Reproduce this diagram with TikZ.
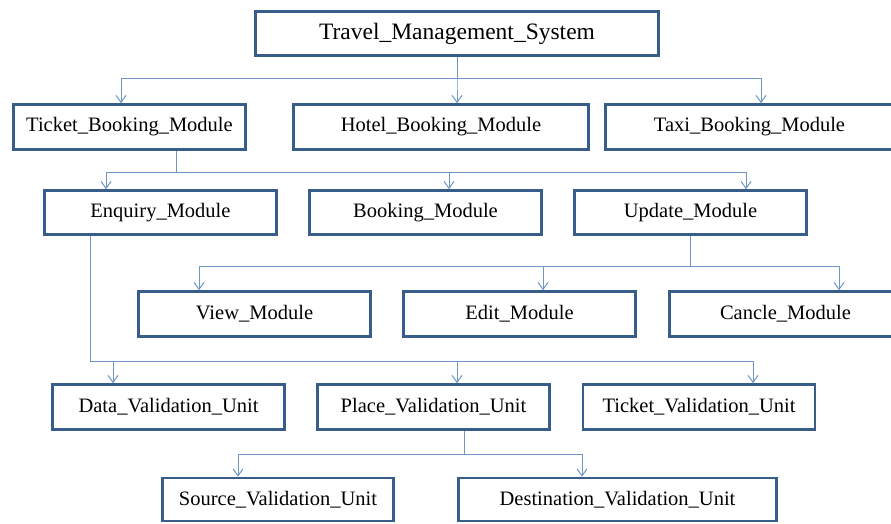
\documentclass[tikz,border=0pt]{standalone}
\usepackage{fontspec}
\setmainfont{Liberation Serif}
\newfontfamily\boxfont{Liberation Serif}
\usepackage{tikz}
\usetikzlibrary{arrows.meta}
\definecolor{boxblue}{RGB}{56,93,138}
\definecolor{linkblue}{RGB}{111,150,200}
\tikzset{
  module/.style={draw=boxblue, line width=2.6pt, fill=white, rectangle,
    minimum width=232pt, minimum height=45pt, inner sep=0pt,
    font=\boxfont\fontsize{20.5}{24}\selectfont},
  link/.style={draw=linkblue, line width=1pt, -{Straight Barb[length=7pt,width=10pt]}}
}
\begin{document}
\begin{tikzpicture}[x=1pt,y=-1pt]
      \useasboundingbox[fill=white] (0,0) rectangle (891,523);
      \clip (0,0) rectangle (891,523);

      \node[module, minimum width=403pt, minimum height=44pt, font=\boxfont\fontsize{23.5}{27}\selectfont] (tms) at (457,33.5) {Travel\_Management\_System};

      \node[module] (ticket) at (129.5,127) {Ticket\_Booking\_Module};
      \node[module, minimum width=295pt] (hotel) at (441,127) {Hotel\_Booking\_Module};
      \node[module, minimum width=288pt] (taxi) at (749.5,127) {Taxi\_Booking\_Module};

      \node[module, minimum height=44pt] (enquiry) at (160.5,212.5) {Enquiry\_Module};
      \node[module, minimum height=44pt] (booking) at (425.5,212.5) {Booking\_Module};
      \node[module, minimum height=44pt] (update) at (690.5,212.5) {Update\_Module};

      \node[module] (view) at (254.5,314) {View\_Module};
      \node[module] (edit) at (519.5,314) {Edit\_Module};
      \node[module] (cancle) at (785.5,314) {Cancle\_Module};

      \node[module] (dataval) at (168.5,407) {Data\_Validation\_Unit};
      \node[module] (placeval) at (433.5,407) {Place\_Validation\_Unit};
      \node[module] (ticketval) at (699,407) {Ticket\_Validation\_Unit};

      \node[module, minimum width=231pt, minimum height=43pt] (sourceval) at (278,499.5) {Source\_Validation\_Unit};
      \node[module, minimum width=318pt, minimum height=43pt] (destval) at (617.5,499.5) {Destination\_Validation\_Unit};

      \draw[link] (tms.south) -- ++(0,22) -| ([xshift=-8.5]ticket.north);
      \draw[link] (tms.south) -- ++(0,22) -| ([xshift=16]hotel.north);
      \draw[link] (tms.south) -- ++(0,22) -| ([xshift=11.5]taxi.north);

      \draw[link] ([xshift=46.5]ticket.south) -- ++(0,22) -| ([xshift=-54.5]enquiry.north);
      \draw[link] ([xshift=46.5]ticket.south) -- ++(0,22) -| ([xshift=23.5]booking.north);
      \draw[link] ([xshift=46.5]ticket.south) -- ++(0,22) -| ([xshift=55.5]update.north);

      \draw[link] (update.south) -- ++(0,31) -| ([xshift=-55.5]view.north);
      \draw[link] (update.south) -- ++(0,31) -| ([xshift=23.5]edit.north);
      \draw[link] (update.south) -- ++(0,31) -| ([xshift=53.5]cancle.north);

      \draw[link] ([xshift=-70.5]enquiry.south) -- ++(0,126) -| ([xshift=-55.5]dataval.north);
      \draw[link] ([xshift=-70.5]enquiry.south) -- ++(0,126) -| ([xshift=23.5]placeval.north);
      \draw[link] ([xshift=-70.5]enquiry.south) -- ++(0,126) -| ([xshift=54]ticketval.north);

      \draw[link] ([xshift=30.5]placeval.south) -- ++(0,24) -| ([xshift=-40]sourceval.north);
      \draw[link] ([xshift=30.5]placeval.south) -- ++(0,24) -| ([xshift=-35.5]destval.north);
    \end{tikzpicture}
\end{document}
